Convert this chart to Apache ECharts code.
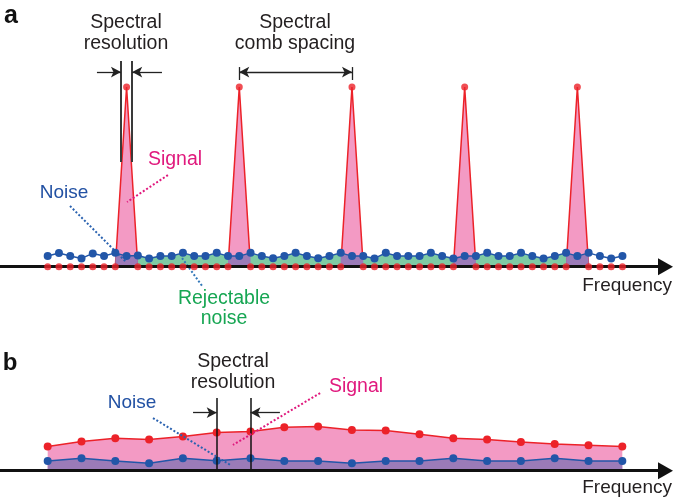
<!DOCTYPE html>
<html><head><meta charset="utf-8">
<script src="https://cdn.jsdelivr.net/npm/echarts@6/dist/echarts.min.js"></script>
<style>html,body{margin:0;padding:0;background:#fff}#c{width:675px;height:499px}</style>
</head><body><div id="c"></div>
<script>
// ---- Panel a data (52 frequency bins) ----
const signalA = [0,0,0,0,0,0,0,100,0,0, 0,0,0,0,0,0,0,100,0,0, 0,0,0,0,0,0,0,100,0,0, 0,0,0,0,0,0,0,100,0,0, 0,0,0,0,0,0,0,100,0,0, 0,0];
const noiseA = [6.0,7.6,6.0,4.6,7.4,6.0,7.7,5.9,6.2,4.6, 6.0,6.0,7.7,6.0,6.0,7.7,5.9,5.9,7.7,5.9,
                4.7,6.0,7.7,6.0,4.7,6.0,7.7,5.9,5.9,4.6, 7.7,6.0,6.0,6.0,7.7,6.0,4.6,5.9,6.0,7.7,
                6.0,6.0,7.7,5.9,4.6,6.0,7.7,5.9,7.7,5.9, 4.6,5.9];
const peakIdx = [7,17,27,37,47];
const rejectRange = [8,46];
// ---- Panel b data (18 frequency bins) ----
const signalB = [13.4,16.2,18.1,17.3,19.0,21.2,21.8,24.2,24.6,22.7,22.3,20.3,18.1,17.3,15.9,14.9,14.2,13.4];
const noiseB  = [5.4,6.9,5.4,4.1,6.9,5.6,6.9,5.4,5.4,4.1,5.4,5.4,6.9,5.4,5.4,6.9,5.4,5.4];

const RED='#ec2229', PINK='#f39ac4', PURPLE='#9b7bb8', GREEN='#7ecba4', BLUE='#2256a8';
const TXT='#231f20', MAG='#e0197d', NBLUE='#2251a3', GTXT='#17a653';
const FONT='"Liberation Sans", Arial, Helvetica, sans-serif';

const pairs = arr => arr.map((v,i)=>[i,v]);
const inPeakWin = i => peakIdx.some(p => Math.abs(i-p) <= 1);
const rejectData = noiseA.map((v,i)=> (i>=rejectRange[0] && i<=rejectRange[1]) ? [i,v] : [i,null]);
const overlapData = noiseA.map((v,i)=> inPeakWin(i) ? [i,v] : [i,null]);

function seg(a,b,style,s1,s2){
  return [{coord:a, symbol:s1||'none', lineStyle:style}, {coord:b, symbol:s2||'none'}];
}
const blk = {color:'#222', width:1.3, type:'solid'};
const vl = {color:'#3a3a3a', width:2, type:'solid'};
const dotP = {color:MAG, width:2, type:[2,2]};
const dotB = {color:'#2a62b0', width:2, type:[2,2]};
const dotR = {color:'#3277b8', width:2, type:[2,2]};

const axisCommon = (idx,min,max)=>({
  type:'value', gridIndex:idx, min:min, max:max, z:6,
  axisLine:{show:true, onZero:true, lineStyle:{color:'#111', width:3}, symbol:['none','triangle'], symbolSize:[17,15]},
  axisTick:{show:false}, axisLabel:{show:false}, splitLine:{show:false}
});

const chart = echarts.init(document.getElementById('c'), null, {renderer:'canvas'});
chart.setOption({
  animation:false,
  grid:[
    {left:0, top:51.06, width:665.5, height:251.58},
    {left:0, top:389.8, width:665.5, height:80.9}
  ],
  xAxis:[axisCommon(0,-4.232,54.82), axisCommon(1,-1.411,18.278)],
  yAxis:[
    {type:'value', gridIndex:0, min:-20, max:120, show:false},
    {type:'value', gridIndex:1, min:0, max:45, show:false}
  ],
  series:[
    {type:'line', xAxisIndex:0, yAxisIndex:0, data:pairs(signalA), showSymbol:false, clip:false, z:2,
     lineStyle:{color:RED, width:1.5}, areaStyle:{color:PINK, opacity:1, origin:0}, silent:true},
    {type:'line', xAxisIndex:0, yAxisIndex:0, data:rejectData, showSymbol:false, clip:false, z:3,
     lineStyle:{width:0, opacity:0}, areaStyle:{color:GREEN, opacity:1, origin:0}, silent:true},
    {type:'line', xAxisIndex:0, yAxisIndex:0, data:overlapData, showSymbol:false, clip:false, z:4,
     lineStyle:{width:0, opacity:0}, areaStyle:{color:PURPLE, opacity:1, origin:0}, silent:true},
    {type:'scatter', xAxisIndex:0, yAxisIndex:0, data:pairs(signalA), symbolSize:7, clip:false, z:7,
     itemStyle:{color:RED}, silent:true},
    {type:'line', xAxisIndex:0, yAxisIndex:0, data:pairs(noiseA), symbol:'circle', symbolSize:8, clip:false, z:8,
     lineStyle:{color:BLUE, width:1.5}, itemStyle:{color:BLUE}, silent:true,
     markLine:{silent:true, animation:false, symbol:['none','none'], symbolSize:[8,10], label:{show:false},
       emphasis:{disabled:true},
       data:[
         seg([6.5,114.5],[6.5,58.3],vl),
         seg([7.5,114.5],[7.5,58.3],vl),
         seg([4.37,108.3],[6.5,108.3],blk,'none','arrow'),
         seg([10.14,108.3],[7.5,108.3],blk,'none','arrow'),
         seg([17,111.1],[17,103.9],blk),
         seg([27,111.1],[27,103.9],blk),
         seg([17,108.3],[27,108.3],blk,'arrow','arrow'),
         seg([10.67,51.0],[7.04,36.0],dotP),
         seg([1.98,33.8],[6.96,2.6],dotB),
         seg([11.92,4.8],[13.69,-10.6],dotR)
       ]}},
    {type:'line', xAxisIndex:1, yAxisIndex:1, data:pairs(signalB), symbol:'circle', symbolSize:8, clip:false, z:2,
     lineStyle:{color:RED, width:1.5}, itemStyle:{color:RED}, areaStyle:{color:PINK, opacity:1, origin:0}, silent:true},
    {type:'line', xAxisIndex:1, yAxisIndex:1, data:pairs(noiseB), symbol:'circle', symbolSize:8, clip:false, z:3,
     lineStyle:{color:BLUE, width:1.5}, itemStyle:{color:BLUE}, areaStyle:{color:PURPLE, opacity:1, origin:0}, silent:true,
     markLine:{silent:true, animation:false, symbol:['none','none'], symbolSize:[8,10], label:{show:false},
       emphasis:{disabled:true},
       data:[
         seg([5,40.5],[5,0],{color:'#111', width:1.5, type:'solid'}),
         seg([6,40.5],[6,0],{color:'#111', width:1.5, type:'solid'}),
         seg([4.30,32.3],[5,32.3],blk,'none','arrow'),
         seg([6.87,32.3],[6,32.3],blk,'none','arrow'),
         seg([3.115,29.3],[5.40,3.2],dotB),
         seg([8.06,43.2],[5.48,14.3],dotP)
       ]}}
  ],
  graphic:[
    t('a',11,16,'bold 25px '+FONT,'#111'),
    t('b',10,363.6,'bold 24px '+FONT,'#111'),
    t('Spectral',126,22.2,'19.5px '+FONT,TXT),
    t('resolution',126,43.2,'19.5px '+FONT,TXT),
    t('Spectral',295,22.2,'19.5px '+FONT,TXT),
    t('comb spacing',295,43.2,'19.5px '+FONT,TXT),
    t('Signal',175,160,'19.5px '+FONT,MAG),
    t('Noise',64,193,'19px '+FONT,NBLUE),
    t('Rejectable',224,298.5,'19.5px '+FONT,GTXT),
    t('noise',224,318.5,'19.5px '+FONT,GTXT),
    t('Frequency',672,286,'19px '+FONT,TXT,'right'),
    t('Spectral',233,361.5,'19.5px '+FONT,TXT),
    t('resolution',233,382.5,'19.5px '+FONT,TXT),
    t('Noise',132,402.3,'19px '+FONT,NBLUE),
    t('Signal',356,386.5,'19.5px '+FONT,MAG),
    t('Frequency',672,487.3,'19px '+FONT,TXT,'right')
  ]
});
function t(text,x,y,font,fill,align){
  align = align || 'center';
  return {type:'text', x:x, y:y, silent:true, z:20,
    style:{text:text, font:font, fill:fill, align:align, textAlign:align, verticalAlign:'middle', textVerticalAlign:'middle'}};
}
</script></body></html>
